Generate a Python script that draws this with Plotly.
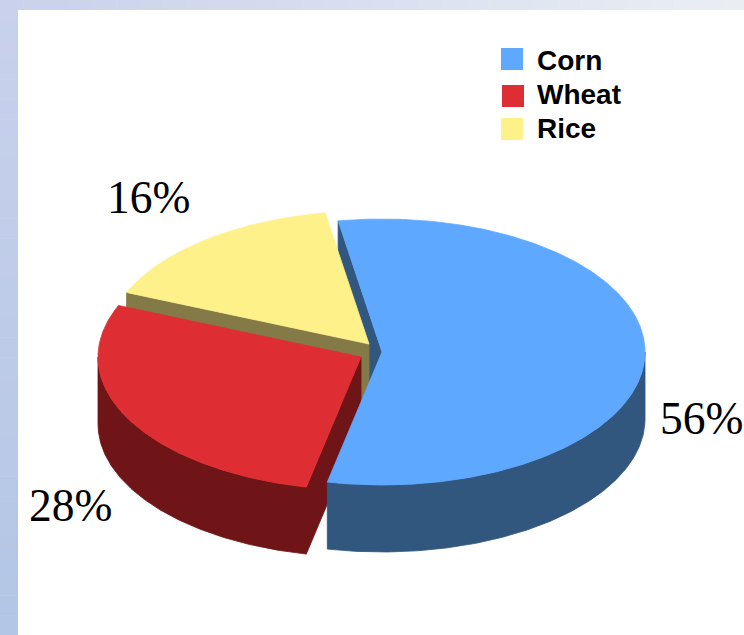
import math
import plotly.graph_objects as go

crops = ["Corn", "Wheat", "Rice"]
shares = [56, 28, 16]
share_labels = ["56%", "28%", "16%"]

W, H = 744, 635
START = -9.6
RX, RY, DEPTH = 263, 133, 67
centers = {"Corn": (382, 352), "Wheat": (361, 357), "Rice": (369, 344)}
top_col = {"Corn": "#5FA8FF", "Wheat": "#DF2E33", "Rice": "#FFF18A"}
side_col = {"Corn": "#31577F", "Wheat": "#6F1517", "Rice": "#847A47"}
label_pos = {"Corn": (701, 418), "Wheat": (70, 505), "Rice": (148, 197)}
swatch_pos = {"Corn": (512, 59), "Wheat": (513, 96), "Rice": (512, 129)}
text_y = {"Corn": 60, "Wheat": 94, "Rice": 128}

# slice angle spans from the shares
spans = {}
a = START
for c, s in zip(crops, shares):
    spans[c] = (a, a + s * 3.6)
    a += s * 3.6


def pt(c, t, dz=0):
    cx, cy = centers[c]
    r = math.radians(t)
    return cx + RX * math.sin(r), cy - RY * math.cos(r) + dz


def arc(c, t0, t1, dz=0):
    n = max(2, int(abs(t1 - t0)) * 2)
    return [pt(c, t0 + (t1 - t0) * i / n, dz) for i in range(n + 1)]


def poly(points, color):
    xs = [p[0] for p in points] + [points[0][0]]
    ys = [p[1] for p in points] + [points[0][1]]
    return go.Scatter(x=xs, y=ys, mode="lines", fill="toself", fillcolor=color,
                      line=dict(color=color, width=0.8), hoverinfo="skip", showlegend=False)


def top(c):
    return poly([centers[c]] + arc(c, *spans[c]), top_col[c])


def face(c, t):
    cx, cy = centers[c]
    return poly([pt(c, t), (cx, cy), (cx, cy + DEPTH), pt(c, t, DEPTH)], side_col[c])


def rim(c):
    t0, t1 = spans[c]
    t0, t1 = max(t0, 90), min(t1, 270)
    return poly(arc(c, t0, t1) + arc(c, t1, t0, DEPTH), side_col[c])


def rim_and_face(c):
    # the cut face at the slice's start joined to its outer wall, so no seam shows
    cx, cy = centers[c]
    t0, t1 = spans[c]
    t1 = min(t1, 270)
    return poly([(cx, cy), (cx, cy + DEPTH)] + arc(c, t0, t1, DEPTH) + arc(c, t1, t0), side_col[c])


fig = go.Figure()
# painter's order, back to front
fig.add_trace(face("Corn", spans["Corn"][0]))
fig.add_trace(face("Rice", spans["Rice"][0]))
fig.add_trace(top("Rice"))
fig.add_trace(rim_and_face("Wheat"))
fig.add_trace(top("Wheat"))
fig.add_trace(rim("Corn"))
fig.add_trace(top("Corn"))

for c in crops:
    x, y = swatch_pos[c]
    fig.add_trace(go.Scatter(x=[x], y=[y], mode="markers", hoverinfo="skip", showlegend=False,
                             marker=dict(symbol="square", size=22, color=top_col[c])))
    fig.add_annotation(x=535, y=text_y[c], text="<b>" + c + "</b>", showarrow=False,
                       xanchor="left", yanchor="middle",
                       font=dict(family="Liberation Sans", size=28, color="#000000"))

for c, lab in zip(crops, share_labels):
    x, y = label_pos[c]
    fig.add_annotation(x=x, y=y, text=lab, showarrow=False, xanchor="center", yanchor="middle",
                       font=dict(family="Liberation Serif", size=45.5, color="#000000"))


def mix(c0, c1, f):
    return "rgb(%d,%d,%d)" % tuple(round(u + (v - u) * f) for u, v in zip(c0, c1))


# slide frame: gradient edge around the white panel
LEFT_TOP, LEFT_BOTTOM = (201, 209, 236), (179, 198, 229)
TOP_RIGHT = (234, 238, 243)
shapes = []
for i in range(32):
    y0 = H * i / 32
    shapes.append(dict(type="rect", xref="x", yref="y", x0=0, x1=18, y0=y0, y1=y0 + H / 32 + 0.5,
                       fillcolor=mix(LEFT_TOP, LEFT_BOTTOM, i / 31), line_width=0, layer="below"))
    x0 = W * i / 32
    shapes.append(dict(type="rect", xref="x", yref="y", x0=x0, x1=x0 + W / 32 + 0.5, y0=0, y1=10,
                       fillcolor=mix(LEFT_TOP, TOP_RIGHT, i / 31), line_width=0, layer="below"))

fig.update_layout(
    width=W, height=H, margin=dict(l=0, r=0, t=0, b=0),
    paper_bgcolor="#FFFFFF", plot_bgcolor="#FFFFFF", shapes=shapes, showlegend=False,
    xaxis=dict(range=[0, W], visible=False, fixedrange=True),
    yaxis=dict(range=[H, 0], visible=False, fixedrange=True),
)
fig.write_html("out.html", config={"displayModeBar": False},
               post_script="document.body.style.margin='0';document.documentElement.style.overflow='hidden';")
